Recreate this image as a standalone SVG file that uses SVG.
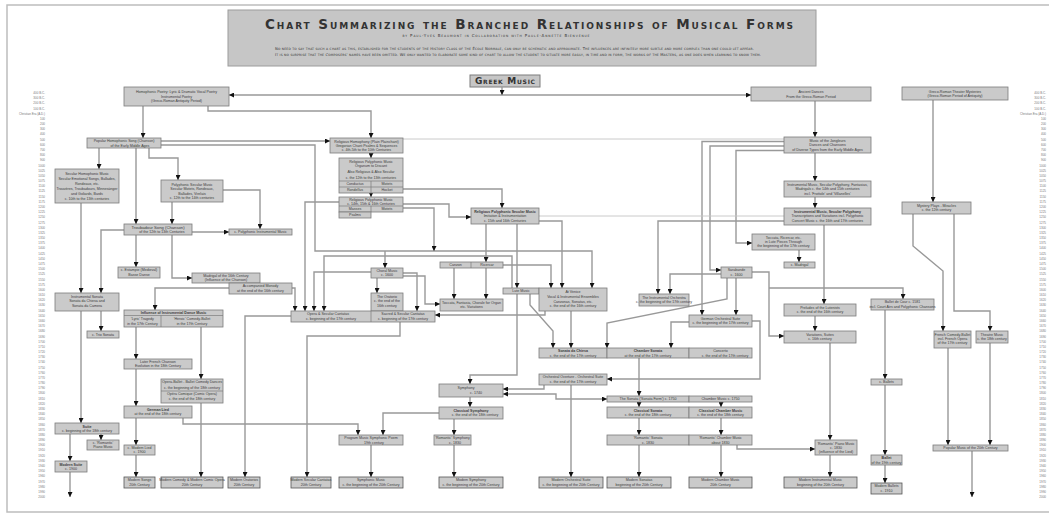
<svg xmlns="http://www.w3.org/2000/svg" xmlns:xlink="http://www.w3.org/1999/xlink" width="1049" height="514" viewBox="0 0 1049 514">
<style>
.n rect{fill:#cacaca;stroke:#7c7c7c;stroke-width:0.8}
.m rect{fill:#cacaca;stroke:#555;stroke-width:0.8}
.n line,.m line{stroke:#7c7c7c;stroke-width:0.7}
text{font-family:"Liberation Sans",Arial,sans-serif;fill:#3a3a3a}
.t{font-size:3.6px;text-anchor:middle}
.tl{font-size:3px;fill:#777;text-anchor:end}
.sc{font-family:"DejaVu Sans",Verdana,sans-serif;font-variant:small-caps;text-anchor:middle;fill:#333}
.c path{fill:none;stroke:#999;stroke-width:1.4;marker-end:url(#a)}
.c path.l{stroke:#c4c4c4;stroke-width:0.9;marker-end:none}
.c path.b{marker-start:url(#s)}
</style>
<defs>
<marker id="a" markerWidth="5" markerHeight="5" refX="5" refY="2.5" orient="auto" markerUnits="userSpaceOnUse"><path d="M0,0 L5,2.5 L0,5 z" fill="#111"/></marker>
<marker id="s" markerWidth="5" markerHeight="5" refX="5" refY="2.5" orient="auto-start-reverse" markerUnits="userSpaceOnUse"><path d="M0,0 L5,2.5 L0,5 z" fill="#111"/></marker>
<text id="ticks" class="tl"><tspan x="0" y="94">400 B.C.</tspan><tspan x="0" y="99.2">300 B.C.</tspan><tspan x="0" y="104.4">200 B.C.</tspan><tspan x="0" y="109.5">100 B.C.</tspan><tspan x="0" y="114.7">Christian Era (A.D.)</tspan><tspan x="0" y="119.9">100</tspan><tspan x="0" y="125.1">200</tspan><tspan x="0" y="130.3">300</tspan><tspan x="0" y="135.4">400</tspan><tspan x="0" y="140.6">500</tspan><tspan x="0" y="145.8">600</tspan><tspan x="0" y="151">700</tspan><tspan x="0" y="156.2">800</tspan><tspan x="0" y="161.3">900</tspan><tspan x="0" y="166.5">1000</tspan><tspan x="0" y="171.7">1025</tspan><tspan x="0" y="176.9">1050</tspan><tspan x="0" y="182.1">1075</tspan><tspan x="0" y="187.2">1100</tspan><tspan x="0" y="192.4">1125</tspan><tspan x="0" y="197.6">1150</tspan><tspan x="0" y="202.8">1175</tspan><tspan x="0" y="208">1200</tspan><tspan x="0" y="213.1">1225</tspan><tspan x="0" y="218.3">1250</tspan><tspan x="0" y="223.5">1275</tspan><tspan x="0" y="228.7">1300</tspan><tspan x="0" y="233.9">1325</tspan><tspan x="0" y="239">1350</tspan><tspan x="0" y="244.2">1375</tspan><tspan x="0" y="249.4">1400</tspan><tspan x="0" y="254.6">1425</tspan><tspan x="0" y="259.8">1450</tspan><tspan x="0" y="264.9">1475</tspan><tspan x="0" y="270.1">1500</tspan><tspan x="0" y="275.3">1525</tspan><tspan x="0" y="280.5">1550</tspan><tspan x="0" y="285.7">1575</tspan><tspan x="0" y="290.8">1600</tspan><tspan x="0" y="296">1610</tspan><tspan x="0" y="301.2">1620</tspan><tspan x="0" y="306.4">1630</tspan><tspan x="0" y="311.6">1640</tspan><tspan x="0" y="316.7">1650</tspan><tspan x="0" y="321.9">1660</tspan><tspan x="0" y="327.1">1670</tspan><tspan x="0" y="332.3">1680</tspan><tspan x="0" y="337.5">1690</tspan><tspan x="0" y="342.6">1700</tspan><tspan x="0" y="347.8">1710</tspan><tspan x="0" y="353">1720</tspan><tspan x="0" y="358.2">1730</tspan><tspan x="0" y="363.4">1740</tspan><tspan x="0" y="368.5">1750</tspan><tspan x="0" y="373.7">1760</tspan><tspan x="0" y="378.9">1770</tspan><tspan x="0" y="384.1">1780</tspan><tspan x="0" y="389.3">1790</tspan><tspan x="0" y="394.4">1800</tspan><tspan x="0" y="399.6">1810</tspan><tspan x="0" y="404.8">1820</tspan><tspan x="0" y="410">1830</tspan><tspan x="0" y="415.2">1840</tspan><tspan x="0" y="420.3">1850</tspan><tspan x="0" y="425.5">1860</tspan><tspan x="0" y="430.7">1870</tspan><tspan x="0" y="435.9">1880</tspan><tspan x="0" y="441.1">1890</tspan><tspan x="0" y="446.2">1900</tspan><tspan x="0" y="451.4">1910</tspan><tspan x="0" y="456.6">1920</tspan><tspan x="0" y="461.8">1930</tspan><tspan x="0" y="467">1940</tspan><tspan x="0" y="472.1">1950</tspan><tspan x="0" y="477.3">1960</tspan><tspan x="0" y="482.5">1970</tspan><tspan x="0" y="487.7">1980</tspan><tspan x="0" y="492.8">1990</tspan><tspan x="0" y="498">2000</tspan></text>
</defs>
<rect width="1049" height="514" fill="#fff"/>
<path d="M1049,5 H7 V512 H1049" fill="none" stroke="#bdbdbd" stroke-width="1.5"/>
<g id="timeline-left"><use href="#ticks" x="45"/></g>
<g id="timeline-right"><use href="#ticks" x="1046"/></g>

<g id="title">
<rect x="228" y="10" width="588" height="56" fill="#c6c6c6" stroke="#9c9c9c" stroke-width="1"/>
<text class="sc" x="529" y="29" font-size="13.5" font-weight="bold" textLength="528" lengthAdjust="spacing">Chart Summarizing the Branched Relationships of Musical Forms</text>
<text class="sc" x="496" y="36.5" font-size="4" textLength="187" lengthAdjust="spacing">by Paul-Yves Beaumont in Collaboration with Paule-Annette Bienvenue</text>
<text class="sc" x="514.5" y="49.5" font-size="3.7" textLength="479" lengthAdjust="spacing">No need to say that such a chart as this, established for the students of the History Class of the École Normale, can only be schematic and approximate.   The influences are infinitely more subtle and more complex than one could let appear.</text>
<text class="sc" x="518" y="56" font-size="3.7" textLength="486" lengthAdjust="spacing">It is no surprise that the Composers' names have been omitted.   We only wanted to elaborate some kind of chart to allow the student to situate more easily, in time and in form, the works of the Masters, as one does when learning to know them.</text>
</g>

<g id="greek-music">
<rect x="470" y="75" width="70" height="12" fill="#c6c6c6" stroke="#7c7c7c" stroke-width="1"/>
<text class="sc" x="505" y="84" font-size="9" font-weight="bold" textLength="60" lengthAdjust="spacing">Greek Music</text>
</g>

<g id="connectors" class="c">
<path class="b" d="M229,95 H751"/>
<path d="M502,87 V95"/>
<path d="M143,106 V138"/>
<path d="M208,106 V111 H371 V138"/>
<path d="M99,148 V169"/>
<path d="M136,148 V224"/>
<path d="M149,148 V158 H178 V180"/>
<path d="M161,141 H330"/>
<path d="M161,145 H315 V251 H592 V288"/>
<path d="M385,251 V268"/>
<path class="l" d="M403,139 H784"/>
<path d="M815,101 V137"/>
<path d="M784,141.5 H702 V315"/>
<path d="M784,146 H710 V270 H721"/>
<path d="M784,150.5 H736 V243 H752"/>
<path d="M815,153 V181"/>
<path d="M815,197 V208"/>
<path d="M933,100 V202"/>
<path d="M371,153 V158"/>
<path d="M371,193 V197"/>
<path d="M403,189 H502 V208"/>
<path d="M403,204 H449 V217 H471"/>
<path d="M403,208 H434 V251"/>
<path d="M223,190 H260 V229"/>
<path d="M172,202 V224"/>
<path d="M192,232 H229"/>
<path d="M136,235 V267"/>
<path d="M172,235 V278 H192"/>
<path d="M124,230 H101 V293"/>
<path d="M81,203 V293"/>
<path d="M229,288 H155 V310"/>
<path d="M292,288 H295 V311"/>
<path d="M339,202 H305 V311"/>
<path d="M371,272 H314 V311"/>
<path d="M512,288 V256 H324 V311"/>
<path d="M403,273 H417 V311"/>
<path d="M403,276 H425 V304 H440"/>
<path d="M377,278 V293"/>
<path d="M486,224 V262"/>
<path d="M454,268 V299"/>
<path d="M486,268 V299"/>
<path d="M503,265 H551 V288"/>
<path d="M539,221 H562 V288"/>
<path class="l" d="M539,216 H784"/>
<path d="M784,221 H658 V294"/>
<path d="M721,274 H670 V294"/>
<path d="M752,272 H769 V336 H784"/>
<path d="M769,288 H903 V299"/>
<path d="M736,278 V315"/>
<path d="M727,278 V299 L607,323 V348"/>
<path d="M799,250 V262"/>
<path d="M824,225 V304"/>
<path d="M815,316 V331"/>
<path d="M830,343 V440"/>
<path d="M830,455 V477"/>
<path d="M913,214 V246 L943,271 V331"/>
<path d="M954,214 V311 H990 V331"/>
<path d="M948,348 V445"/>
<path d="M990,343 V445"/>
<path d="M972,451 V497"/>
<path d="M885,310 V379"/>
<path d="M885,385 V455"/>
<path d="M885,465 V483"/>
<path d="M517,224 V288"/>
<path d="M517,294 V375 H470 V384"/>
<path d="M545,311 V315 H435"/>
<path d="M530,294 V305 L553,331 V348"/>
<path d="M571,311 V348"/>
<path d="M689,322 H671 V348"/>
<path d="M752,321 H760 V379 H607"/>
<path d="M571,385 V477"/>
<path d="M544,385 V389 H503"/>
<path class="b" d="M503,394 H556 V399 H607"/>
<path d="M639,358 V396"/>
<path d="M639,402 V407"/>
<path d="M721,402 V407"/>
<path d="M639,418 V435"/>
<path d="M721,418 V435"/>
<path d="M639,445 V477"/>
<path d="M721,445 V477"/>
<path d="M737,445 V449 H815"/>
<path d="M470,397 V407"/>
<path d="M439,413 H383 V435"/>
<path d="M454,419 V435"/>
<path d="M371,445 V477"/>
<path d="M454,445 V477"/>
<path d="M183,418 V424 H358 V435"/>
<path d="M400,322 V336 H307 V477"/>
<path d="M291,316 H245 V477"/>
<path d="M136,327 V359"/>
<path d="M201,327 V379"/>
<path d="M136,369 V406"/>
<path d="M136,418 V445"/>
<path d="M136,455 V477"/>
<path d="M201,403 V477"/>
<path d="M101,311 V331"/>
<path d="M81,311 V423"/>
<path d="M101,434 V440"/>
<path d="M70,434 V461"/>
<path d="M70,472 V497"/>
</g>

<g id="n-homophonic-poetry" class="n"><rect x="124" y="87" width="105" height="19"/><text class="t" font-size="4"><tspan x="176.5" y="93.2">Homophonic Poetry: Lyric &amp; Dramatic Vocal Poetry</tspan><tspan x="176.5" y="97.8">Instrumental Poetry</tspan><tspan x="176.5" y="102.4">(Greco-Roman Antiquity Period)</tspan></text></g>
<g id="n-ancient-dances" class="n"><rect x="751" y="87" width="120" height="14"/><text class="t" font-size="4"><tspan x="811" y="93">Ancient Dances</tspan><tspan x="811" y="97.6">From the Greco-Roman Period</tspan></text></g>
<g id="n-theater-mysteries" class="n"><rect x="902" y="87" width="106" height="13"/><text class="t" font-size="4"><tspan x="955" y="92.5">Greco-Roman Theater Mysteries</tspan><tspan x="955" y="97.1">(Greco-Roman Period of Antiquity)</tspan></text></g>
<g id="n-popular-song" class="n"><rect x="87" y="138" width="74" height="10"/><text class="t" font-size="4"><tspan x="124" y="142.2">Popular Homophonic Song (Chanson)</tspan><tspan x="130" y="146.6">of the Early Middle Ages</tspan></text></g>
<g id="n-religious-homophony" class="n"><rect x="330" y="138" width="73" height="15"/><text class="t"><tspan x="366.5" y="142.6">Religious Homophony (Plain Plainchant)</tspan><tspan x="366.5" y="146.8">Gregorian Chant Psalms &amp; Sequences</tspan><tspan x="366.5" y="151">c. 4th-5th to the 10th Centuries</tspan></text></g>
<g id="n-jongleurs" class="n"><rect x="784" y="137" width="87" height="16"/><text class="t"><tspan x="827.5" y="142.1">Music of the Jongleurs</tspan><tspan x="827.5" y="146.3">Dances and Chansons</tspan><tspan x="827.5" y="150.5">of Diverse Types from the Early Middle Ages</tspan></text></g>
<g id="n-secular-homophonic" class="n"><rect x="55" y="169" width="64" height="34"/><text class="t"><tspan x="87" y="174.5">Secular Homophonic Music</tspan><tspan x="87" y="179.5">Secular Emotional Songs, Ballades,</tspan><tspan x="87" y="184.5">Rondeaux, etc.</tspan><tspan x="87" y="189.5">Trouvères, Troubadours, Minnesänger</tspan><tspan x="87" y="194.5">and Goliards, Bards</tspan><tspan x="87" y="199.5">c. 10th to the 13th centuries</tspan></text></g>
<g id="n-religious-polyphony-12-13" class="n"><rect x="339" y="158" width="64" height="35"/><line x1="339" y1="181" x2="403" y2="181"/><line x1="339" y1="187" x2="403" y2="187"/><line x1="371" y1="181" x2="371" y2="193"/><text class="t"><tspan x="371" y="162.5">Religious Polyphonic Music</tspan><tspan x="371" y="167">Organum to Discant</tspan><tspan x="371" y="173">Also Religious &amp; Also Secular</tspan><tspan x="371" y="178.5">c. the 12th to the 13th centuries</tspan><tspan x="355" y="185.2">Conductus</tspan><tspan x="387" y="185.2">Motets</tspan><tspan x="355" y="190.6">Rondellus</tspan><tspan x="387" y="190.6">Hocket</tspan></text></g>
<g id="n-polyphonic-secular" class="n"><rect x="161" y="180" width="62" height="22"/><text class="t"><tspan x="192" y="185.5">Polyphonic Secular Music</tspan><tspan x="192" y="190">Secular Motets, Rondeaux,</tspan><tspan x="192" y="194.5">Ballades, Virelais</tspan><tspan x="192" y="199.3">c. 12th to the 14th centuries</tspan></text></g>
<g id="n-instrumental-vocal-polyphony" class="n"><rect x="784" y="181" width="87" height="16"/><text class="t"><tspan x="827.5" y="186">Instrumental Music, Secular Polyphony, Fantasias,</tspan><tspan x="827.5" y="190.3">Madrigals  c. the 14th and 15th centuries</tspan><tspan x="827.5" y="194.6">incl. 'Frottole' and 'Villanelles'</tspan></text></g>
<g id="n-religious-polyphony-14-16" class="n"><rect x="339" y="197" width="64" height="15"/><rect x="339" y="212" width="32" height="6"/><line x1="339" y1="206" x2="403" y2="206"/><line x1="371" y1="206" x2="371" y2="212"/><text class="t"><tspan x="371" y="201">Religious Polyphonic Music</tspan><tspan x="371" y="205">c. 14th, 15th &amp; 16th Centuries</tspan><tspan x="355" y="210.3">Masses</tspan><tspan x="387" y="210.3">Motets</tspan><tspan x="355" y="216.3">Psalms</tspan></text></g>
<g id="n-mystery-plays" class="n"><rect x="902" y="202" width="69" height="12"/><text class="t"><tspan x="936.5" y="206.7">Mystery Plays - Miracles</tspan><tspan x="936.5" y="211.2">c. the 12th century</tspan></text></g>
<g id="n-religious-polyphonic-secular" class="n"><rect x="471" y="208" width="68" height="16"/><text class="t"><tspan x="505" y="212.9" font-weight="bold">Religious Polyphonic Secular Music</tspan><tspan x="505" y="217.1">Imitation &amp; Instrumentation</tspan><tspan x="505" y="221.5">c. 15th and 16th Centuries</tspan></text></g>
<g id="n-instrumental-secular-polyphony" class="n"><rect x="784" y="208" width="87" height="17"/><text class="t"><tspan x="827.5" y="212.8" font-weight="bold">Instrumental Music, Secular Polyphony</tspan><tspan x="827.5" y="217.2">Transcriptions and Variations incl. Polyphonic</tspan><tspan x="827.5" y="221.6">Concert Music  c. the 16th and 17th centuries</tspan></text></g>
<g id="n-troubadour-song" class="n"><rect x="124" y="224" width="68" height="11"/><text class="t"><tspan x="158" y="228.6" font-size="4.2">Troubadour Song (Chanson)</tspan><tspan x="162" y="233.2">of the 12th to 13th Centuries</tspan></text></g>
<g id="n-polyphonic-instrumental" class="n"><rect x="229" y="229" width="63" height="6"/><text class="t"><tspan x="260.5" y="233.3">c.  Polyphonic Instrumental Music</tspan></text></g>
<g id="n-toccata-lute" class="n"><rect x="752" y="234" width="63" height="16"/><text class="t"><tspan x="783.5" y="238.8">Toccata, Ricercar, etc.</tspan><tspan x="783.5" y="243">in Lute Pieces Through</tspan><tspan x="783.5" y="247.2">the beginning of the 17th century</tspan></text></g>
<g id="n-canzon-ricercar" class="n"><rect x="440" y="262" width="63" height="6"/><line x1="471" y1="262" x2="471" y2="268"/><text class="t"><tspan x="455.5" y="266.3">Canzon</tspan><tspan x="487" y="266.3">Ricercar</tspan></text></g>
<g id="n-madrigal-small" class="n"><rect x="784" y="262" width="31" height="6"/><text class="t"><tspan x="799.5" y="266.3">c.  Madrigal</tspan></text></g>
<g id="n-medieval-dance" class="n"><rect x="118" y="267" width="42" height="11"/><text class="t"><tspan x="139" y="271.3">c. Estampie (Medieval)</tspan><tspan x="139" y="275.8">Basse Danse</tspan></text></g>
<g id="n-sarabande" class="n"><rect x="721" y="267" width="31" height="11"/><text class="t"><tspan x="736.5" y="271.3">Sarabande</tspan><tspan x="736.5" y="275.8">c. 1600</tspan></text></g>
<g id="n-choral-music" class="n"><rect x="371" y="268" width="32" height="10"/><text class="t"><tspan x="387" y="272">Choral Music</tspan><tspan x="387" y="276.2">c. 1600</tspan></text></g>
<g id="n-madrigal-16" class="n"><rect x="192" y="273" width="68" height="10"/><text class="t"><tspan x="226" y="277">Madrigal of the 16th Century</tspan><tspan x="226" y="281.2">(Influence of the Chanson)</tspan></text></g>
<g id="n-monody" class="n"><rect x="229" y="283" width="63" height="11"/><text class="t"><tspan x="260.5" y="287.3">Accompanied Monody</tspan><tspan x="260.5" y="291.7">at the end of the 16th century</tspan></text></g>
<g id="n-lute-music" class="n"><rect x="503" y="288" width="36" height="6"/><text class="t"><tspan x="521" y="292.3">Lute Music</tspan></text></g>
<g id="n-vocal-instrumental-ensembles" class="n"><rect x="539" y="288" width="68" height="23"/><text class="t"><tspan x="573" y="293">At Venice</tspan><tspan x="573" y="297.8">Vocal &amp; Instrumental Ensembles</tspan><tspan x="573" y="302.6">Canzonas, Sonatas, etc.</tspan><tspan x="573" y="307.4">c. the end of the 16th century</tspan></text></g>
<g id="n-instrumental-orchestra" class="n"><rect x="639" y="294" width="50" height="12"/><text class="t"><tspan x="664" y="298.7">The Instrumental Orchestra</tspan><tspan x="664" y="303">c. the beginning of the 17th century</tspan></text></g>
<g id="n-oratorio" class="n"><rect x="371" y="293" width="32" height="18"/><text class="t"><tspan x="387" y="298">The Oratorio</tspan><tspan x="387" y="302.4">c. the end of the</tspan><tspan x="387" y="306.8">16th century</tspan></text></g>
<g id="n-instrumental-sonata" class="n"><rect x="55" y="293" width="64" height="18"/><text class="t"><tspan x="87" y="298">Instrumental Sonata</tspan><tspan x="87" y="302.4">Sonata da Chiesa and</tspan><tspan x="87" y="306.8">Sonata da Camera</tspan></text></g>
<g id="n-organ" class="n"><rect x="440" y="299" width="63" height="12"/><text class="t"><tspan x="471.5" y="303.7">Toccata, Fantasia, Chorale for Organ</tspan><tspan x="471.5" y="308">etc. Variations</tspan></text></g>
<g id="n-ballet-de-cour" class="n"><rect x="871" y="299" width="63" height="11"/><text class="t"><tspan x="902.5" y="303.3">Ballet de Cour  c. 1581</tspan><tspan x="902.5" y="307.8">incl. Court Airs and Polyphonic Chansons</tspan></text></g>
<g id="n-preludes" class="n"><rect x="784" y="304" width="72" height="12"/><text class="t"><tspan x="820" y="308.7">Preludes of the Lutenists</tspan><tspan x="820" y="313">c. the end of the 16th century</tspan></text></g>
<g id="n-influence" class="n"><rect x="124" y="310" width="99" height="17"/><line x1="124" y1="315.5" x2="223" y2="315.5"/><line x1="161" y1="315.5" x2="161" y2="327"/><text class="t"><tspan x="173.5" y="314.2" font-weight="bold">Influence of Instrumental Dance Music</tspan><tspan x="142.5" y="320">'Lyric' Tragedy</tspan><tspan x="142.5" y="324.6">in the 17th Century</tspan><tspan x="192" y="320">'Heroic' Comedy-Ballet</tspan><tspan x="192" y="324.6">in the 17th Century</tspan></text></g>
<g id="n-cantatas" class="n"><rect x="291" y="311" width="144" height="11"/><line x1="371" y1="311" x2="371" y2="322"/><text class="t"><tspan x="328" y="315.4">Opera &amp; Secular Cantatas</tspan><tspan x="331" y="319.9">c. beginning of the 17th century</tspan><tspan x="403" y="315.4">Sacred &amp; Secular Cantatas</tspan><tspan x="403" y="319.9">c. beginning of the 17th century</tspan></text></g>
<g id="n-german-suite" class="n"><rect x="689" y="315" width="63" height="12"/><text class="t"><tspan x="720.5" y="319.7">German Orchestral Suite</tspan><tspan x="720.5" y="324">c. the beginning of the 17th century</tspan></text></g>
<g id="n-french-comedy" class="n"><rect x="934" y="331" width="37" height="17"/><text class="t"><tspan x="952.5" y="335.5">French Comedy-Ballet</tspan><tspan x="952.5" y="339.8">incl. French Opera</tspan><tspan x="952.5" y="344.1">of the 17th century</tspan></text></g>
<g id="n-theatre-music" class="n"><rect x="976" y="331" width="32" height="12"/><text class="t"><tspan x="992" y="335.7">Theatre Music</tspan><tspan x="992" y="340">c. the 18th century</tspan></text></g>
<g id="n-variations-suites" class="n"><rect x="784" y="331" width="72" height="12"/><text class="t"><tspan x="820" y="335.7">Variations, Suites</tspan><tspan x="820" y="340">c. 16th century</tspan></text></g>
<g id="n-trio-sonata" class="n"><rect x="87" y="331" width="32" height="7"/><text class="t"><tspan x="103" y="335.8">c.  Trio Sonata</tspan></text></g>
<g id="n-sonata-da-chiesa" class="n"><rect x="539" y="348" width="68" height="10"/><text class="t"><tspan x="573" y="352.3" font-weight="bold">Sonata da Chiesa</tspan><tspan x="573" y="356.5">c. the end of the 17th century</tspan></text></g>
<g id="n-chamber-sonata" class="n"><rect x="607" y="348" width="82" height="10"/><text class="t"><tspan x="648" y="352.3" font-weight="bold">Chamber Sonata</tspan><tspan x="648" y="356.5">at the end of the 17th century</tspan></text></g>
<g id="n-concerto" class="n"><rect x="689" y="348" width="63" height="10"/><text class="t"><tspan x="720.5" y="352.3">Concerto</tspan><tspan x="725" y="356.5">c. the end of the 17th century</tspan></text></g>
<g id="n-late-chanson" class="n"><rect x="124" y="359" width="68" height="10"/><text class="t"><tspan x="158" y="363.2">Later French Chanson</tspan><tspan x="158" y="367.4">Evolution in the 18th Century</tspan></text></g>
<g id="n-orchestral-overture" class="n"><rect x="539" y="374" width="68" height="11"/><text class="t"><tspan x="573" y="378.3">Orchestral Overture - Orchestral Suite</tspan><tspan x="573" y="382.7">c. the end of the 17th century</tspan></text></g>
<g id="n-c-ballets" class="n"><rect x="871" y="379" width="31" height="6"/><text class="t"><tspan x="886.5" y="383.3">c.  Ballets</tspan></text></g>
<g id="n-opera-ballet" class="n"><rect x="161" y="379" width="62" height="24"/><line x1="161" y1="391" x2="223" y2="391"/><text class="t"><tspan x="192" y="383">Opera-Ballet - Ballet Comedy Dances</tspan><tspan x="192" y="388.5">c. the beginning of the 18th century</tspan><tspan x="192" y="395">Opéra Comique (Comic Opera)</tspan><tspan x="192" y="400.3">c. the end of the 18th century</tspan></text></g>
<g id="n-symphony" class="n"><rect x="439" y="384" width="64" height="13"/><text class="t"><tspan x="466" y="389.2">Symphony</tspan><tspan x="476" y="393.8">c. 1740</tspan></text></g>
<g id="n-sonata-form" class="n"><rect x="607" y="396" width="82" height="6"/><text class="t"><tspan x="648" y="400.3">The Sonata ('Sonata Form')  c. 1750</tspan></text></g>
<g id="n-chamber-music" class="n"><rect x="689" y="396" width="63" height="6"/><text class="t"><tspan x="720.5" y="400.3">Chamber Music  c. 1750</tspan></text></g>
<g id="n-german-lied" class="n"><rect x="124" y="406" width="68" height="12"/><text class="t"><tspan x="158" y="410.5" font-weight="bold">German Lied</tspan><tspan x="158" y="415">at the end of the 18th century</tspan></text></g>
<g id="n-classical-sonata" class="n"><rect x="607" y="407" width="82" height="11"/><text class="t"><tspan x="648" y="411.5" font-weight="bold">Classical Sonata</tspan><tspan x="648" y="416">c. the end of the 18th century</tspan></text></g>
<g id="n-classical-chamber" class="n"><rect x="689" y="407" width="63" height="11"/><text class="t"><tspan x="720.5" y="411.5" font-weight="bold">Classical Chamber Music</tspan><tspan x="720.5" y="416">c. the end of the 18th century</tspan></text></g>
<g id="n-classical-symphony" class="n"><rect x="439" y="407" width="64" height="12"/><text class="t"><tspan x="471" y="411.7" font-weight="bold">Classical Symphony</tspan><tspan x="475" y="416.2">c. the end of the 18th century</tspan></text></g>
<g id="n-suite" class="n"><rect x="55" y="423" width="64" height="11"/><text class="t"><tspan x="87" y="427.5" font-weight="bold">Suite</tspan><tspan x="87" y="432">c. beginning of the 18th century</tspan></text></g>
<g id="n-program-music" class="n"><rect x="339" y="435" width="64" height="10"/><text class="t"><tspan x="371" y="439.3">Program Music  Symphonic Poem</tspan><tspan x="374" y="443.6">19th century</tspan></text></g>
<g id="n-romantic-symphony" class="n"><rect x="434" y="435" width="37" height="10"/><text class="t"><tspan x="452.5" y="439.3">'Romantic' Symphony</tspan><tspan x="455" y="443.6">c. 1830</tspan></text></g>
<g id="n-romantic-sonata" class="n"><rect x="607" y="435" width="82" height="10"/><text class="t"><tspan x="648" y="439.3">'Romantic' Sonata</tspan><tspan x="648" y="443.6">c. 1830</tspan></text></g>
<g id="n-romantic-chamber" class="n"><rect x="689" y="435" width="63" height="10"/><text class="t"><tspan x="720.5" y="439.3">'Romantic' Chamber Music</tspan><tspan x="720.5" y="443.6">about 1830</tspan></text></g>
<g id="n-romantic-piano-left" class="n"><rect x="87" y="440" width="32" height="10"/><text class="t"><tspan x="103" y="444.2">c. 'Romantic'</tspan><tspan x="103" y="448.4">Piano Music</tspan></text></g>
<g id="n-romantic-piano" class="n"><rect x="815" y="440" width="42" height="15"/><text class="t"><tspan x="836" y="444.5">'Romantic' Piano Music</tspan><tspan x="836" y="448.8">c. 1830</tspan><tspan x="836" y="453">(influence of the Lied)</tspan></text></g>
<g id="n-popular-20th" class="n"><rect x="933" y="445" width="75" height="6"/><text class="t"><tspan x="970.5" y="449.3">Popular Music of the 20th Century</tspan></text></g>
<g id="n-modern-lied" class="n"><rect x="124" y="445" width="31" height="10"/><text class="t"><tspan x="139.5" y="449.2">c. Modern Lied</tspan><tspan x="139.5" y="453.4">c. 1900</tspan></text></g>
<g id="n-ballet-19th" class="n"><rect x="871" y="455" width="31" height="10"/><text class="t"><tspan x="886.5" y="459.3" font-weight="bold">Ballet</tspan><tspan x="886.5" y="463.5">of the 19th century</tspan></text></g>
<g id="n-modern-suite" class="n"><rect x="55" y="461" width="32" height="11"/><text class="t"><tspan x="71" y="465.5" font-weight="bold">Modern Suite</tspan><tspan x="71" y="470">c. 1900</tspan></text></g>
<g id="n-modern-songs" class="m"><rect x="124" y="477" width="31" height="11"/><text class="t"><tspan x="139.5" y="481.3">Modern Songs</tspan><tspan x="139.5" y="485.8">20th Century</tspan></text></g>
<g id="n-modern-comedy" class="m"><rect x="161" y="477" width="62" height="11"/><text class="t"><tspan x="192" y="481.3">Modern Comedy &amp; Modern Comic Opera</tspan><tspan x="192" y="485.8">20th Century</tspan></text></g>
<g id="n-modern-oratorios" class="m"><rect x="228" y="477" width="32" height="11"/><text class="t"><tspan x="244" y="481.3">Modern Oratorios</tspan><tspan x="244" y="485.8">20th Century</tspan></text></g>
<g id="n-modern-cantatas" class="m"><rect x="291" y="477" width="40" height="11"/><text class="t"><tspan x="311" y="481.3">Modern Secular Cantatas</tspan><tspan x="311" y="485.8">20th Century</tspan></text></g>
<g id="n-symphonic-music" class="m"><rect x="339" y="477" width="64" height="11"/><text class="t"><tspan x="371" y="481.3">Symphonic Music</tspan><tspan x="371" y="485.8">c. the beginning of the 20th Century</tspan></text></g>
<g id="n-modern-symphony" class="m"><rect x="439" y="477" width="64" height="11"/><text class="t"><tspan x="471" y="481.3">Modern Symphony</tspan><tspan x="471" y="485.8">c. the beginning of the 20th Century</tspan></text></g>
<g id="n-modern-orchestral-suite" class="m"><rect x="539" y="477" width="64" height="11"/><text class="t"><tspan x="571" y="481.3">Modern Orchestral Suite</tspan><tspan x="571" y="485.8">c. the beginning of the 20th Century</tspan></text></g>
<g id="n-modern-sonatas" class="m"><rect x="607" y="477" width="64" height="11"/><text class="t"><tspan x="639" y="481.3">Modern Sonatas</tspan><tspan x="639" y="485.8">beginning of the 20th Century</tspan></text></g>
<g id="n-modern-chamber" class="m"><rect x="689" y="477" width="63" height="11"/><text class="t"><tspan x="720.5" y="481.3">Modern Chamber Music</tspan><tspan x="720.5" y="485.8">20th Century</tspan></text></g>
<g id="n-modern-instrumental" class="m"><rect x="784" y="477" width="73" height="11"/><text class="t"><tspan x="820.5" y="481.3">Modern Instrumental Music</tspan><tspan x="820.5" y="485.8">beginning of the 20th Century</tspan></text></g>
<g id="n-modern-ballets" class="m"><rect x="871" y="483" width="31" height="11"/><text class="t"><tspan x="886.5" y="487.3">Modern Ballets</tspan><tspan x="886.5" y="491.8">c. 1910</tspan></text></g>
</svg>
